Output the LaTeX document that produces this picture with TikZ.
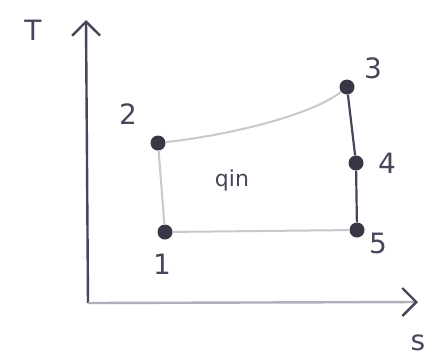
\documentclass[tikz,border=0pt]{standalone}
\usepackage{fontspec}
\setmainfont{DejaVu Sans}
\usetikzlibrary{arrows.meta}
\definecolor{ink}{RGB}{70,70,90}
\definecolor{midink}{RGB}{175,175,185}
\definecolor{lightink}{RGB}{200,200,206}
\definecolor{dotink}{RGB}{55,55,70}
\tikzset{
  pt/.style={circle,fill=dotink,inner sep=0pt,minimum size=15pt},
  lbl/.style={text=ink,font=\fontsize{28}{30}\selectfont},
  axis/.style={draw=ink,line width=2.4pt,-{Straight Barb[length=14pt,width=28pt,line width=2.4pt,color=ink]}},
  thin/.style={draw=lightink,line width=2pt},
  thick/.style={draw=ink,line width=2.2pt}
}
\begin{document}
\begin{tikzpicture}[x=1pt,y=-1pt]
\useasboundingbox (0,0) rectangle (438,360);
\coordinate (O) at (88,303);
\coordinate (ytop) at (86,20);
\coordinate (xend) at (418,302);
\draw[axis] (O) -- (ytop);
\draw[axis,draw=midink] (O) -- (xend);
\node[lbl] (T) at (33,30) {T};
\node[lbl] (S) at (418,343) {s};
\node[pt] (p1) at (165,232) {};
\node[pt] (p2) at (158,143) {};
\node[pt] (p3) at (347,87) {};
\node[pt] (p4) at (356,163) {};
\node[pt] (p5) at (357,230) {};
\draw[thin] (p2) -- (p1);
\draw[thin] (p1) -- (p5);
\draw[thin] (p2) .. controls (230,135) and (312,115) .. (p3);
\draw[thick] (p3) -- (p4) -- (p5);
\node[lbl] (l1) at (162,264) {1};
\node[lbl] (l2) at (128,114) {2};
\node[lbl] (l3) at (373,68) {3};
\node[lbl] (l4) at (387,163) {4};
\node[lbl] (l5) at (378,243) {5};
\node[lbl,font=\fontsize{22}{24}\selectfont] (q) at (232,180) {qin};
\end{tikzpicture}
\end{document}
